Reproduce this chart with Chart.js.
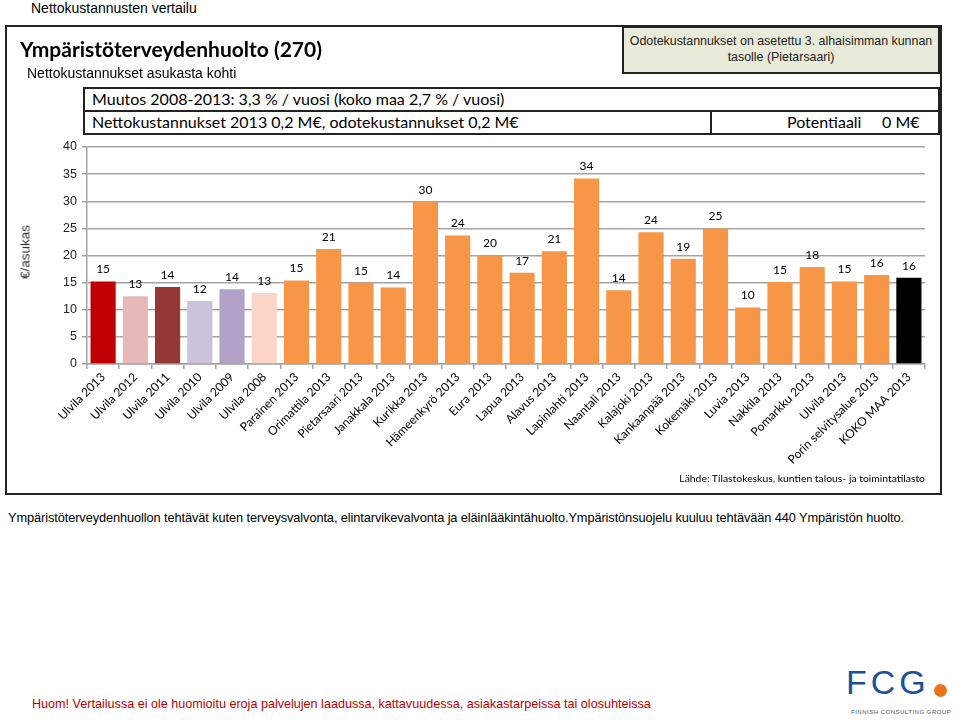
<!DOCTYPE html>
<html>
<head>
<meta charset="utf-8">
<script src="https://cdn.jsdelivr.net/npm/chart.js@4.4.1/dist/chart.umd.min.js"></script>
<style>
  html, body { margin: 0; padding: 0; background: #fff; }
  body { width: 960px; height: 720px; position: relative; overflow: hidden; font-family: "Liberation Sans", Arial, sans-serif; }
  .abs { position: absolute; white-space: nowrap; }
  #frame { position: absolute; left: 5px; top: 25px; width: 933px; height: 466px; border: 2px solid #222; box-sizing: content-box; }
  #chartCanvas { position: absolute; left: 0; top: 0; }
  .box { position: absolute; border: 2px solid #222; box-sizing: border-box; background: #fff; }
</style>
</head>
<body>
<div class="abs" style="left:31px; top:0px; font-size:14px; color:#000;">Nettokustannusten vertailu</div>
<div id="frame"></div>
<canvas id="chartCanvas" width="960" height="500"></canvas>
<div class="abs" style="left:20px; top:36px; font-family:Lato, sans-serif; font-weight:bold; font-size:21px; color:#000;">Ympäristöterveydenhuolto (270)</div>
<div class="abs" style="left:27px; top:65px; font-size:14px; color:#000;">Nettokustannukset asukasta kohti</div>

<div class="box" style="left:622px; top:26px; width:318px; height:48px; background:#E9EBDA;"></div>
<div class="abs" style="left:622px; top:33px; width:318px; text-align:center; font-size:12.4px; line-height:16px; color:#222; white-space:normal;">Odotekustannukset on asetettu 3. alhaisimman kunnan<br>tasolle (Pietarsaari)</div>

<div class="box" style="left:83px; top:87px; width:857px; height:25px;"></div>
<div class="box" style="left:83px; top:110px; width:857px; height:25px;"></div>
<div class="box" style="left:710px; top:110px; width:230px; height:25px;"></div>
<div class="abs" style="left:92px; top:89px; font-family:Lato, sans-serif; font-size:16px; color:#000;">Muutos 2008-2013: 3,3 % / vuosi (koko maa 2,7 % / vuosi)</div>
<div class="abs" style="left:92px; top:112px; font-family:Lato, sans-serif; font-size:16px; color:#000;">Nettokustannukset 2013 0,2 M€, odotekustannukset 0,2 M€</div>
<div class="abs" style="left:787px; top:112px; font-family:Lato, sans-serif; font-size:16px; color:#000;">Potentiaali</div>
<div class="abs" style="left:882px; top:112px; font-family:Lato, sans-serif; font-size:16px; color:#000;">0 M€</div>

<div class="abs" style="left:25px; top:252px; transform:translate(-50%,-50%) rotate(-90deg); font-size:13.5px; font-weight:normal; color:#333;">€/asukas</div>
<div class="abs" style="right:35px; top:472px; font-family:Lato, sans-serif; font-size:10.4px; color:#000;">Lähde: Tilastokeskus, kuntien talous- ja toimintatilasto</div>

<div class="abs" style="left:8px; top:510px; font-size:12.8px; letter-spacing:-0.1px; color:#000;">Ympäristöterveydenhuollon tehtävät kuten terveysvalvonta, elintarvikevalvonta ja eläinlääkintähuolto.Ympäristönsuojelu kuuluu tehtävään 440 Ympäristön huolto.</div>
<div class="abs" style="left:32px; top:697px; font-size:12.6px; color:#C00000;">Huom! Vertailussa ei ole huomioitu eroja palvelujen laadussa, kattavuudessa, asiakastarpeissa tai olosuhteissa</div>

<div class="abs" style="left:846px; top:663px; font-family:'Liberation Sans', Arial, sans-serif; font-size:34px; letter-spacing:4px; color:#1E4F9C;">FCG</div>
<div class="abs" style="left:934px; top:684px; width:13px; height:13px; border-radius:50%; background:#E9731E;"></div>
<div class="abs" style="left:851px; top:709px; font-size:6px; letter-spacing:0.5px; color:#555;">FINNISH CONSULTING GROUP</div>

<script>
const categories = [
  "Ulvila 2013", "Ulvila 2012", "Ulvila 2011", "Ulvila 2010", "Ulvila 2009", "Ulvila 2008",
  "Parainen 2013", "Orimattila 2013", "Pietarsaari 2013", "Janakkala 2013", "Kurikka 2013",
  "Hämeenkyrö 2013", "Eura 2013", "Lapua 2013", "Alavus 2013", "Lapinlahti 2013",
  "Naantali 2013", "Kalajoki 2013", "Kankaanpää 2013", "Kokemäki 2013", "Luvia 2013",
  "Nakkila 2013", "Pomarkku 2013", "Ulvila 2013", "Porin selvitysalue 2013", "KOKO MAA 2013"
];
const costPerResident = [
  15.2, 12.5, 14.2, 11.6, 13.8, 13.1,
  15.4, 21.2, 15.0, 14.1, 29.9,
  23.7, 20.0, 16.8, 20.8, 34.2,
  13.6, 24.3, 19.4, 25.0, 10.4,
  15.1, 17.9, 15.2, 16.4, 15.9
];
const barColors = [
  "#C00000", "#E6B9B8", "#953735", "#CCC1DA", "#B3A2C7", "#FCD5C8",
  "#F79646", "#F79646", "#F79646", "#F79646", "#F79646",
  "#F79646", "#F79646", "#F79646", "#F79646", "#F79646",
  "#F79646", "#F79646", "#F79646", "#F79646", "#F79646",
  "#F79646", "#F79646", "#F79646", "#F79646", "#000000"
];
const yTicks = [0, 5, 10, 15, 20, 25, 30, 35, 40];

const valueLabels = {
  id: "valueLabels",
  afterDatasetsDraw(chart) {
    const ctx = chart.ctx;
    const meta = chart.getDatasetMeta(0);
    ctx.save();
    ctx.font = "12px Lato, sans-serif";
    ctx.fillStyle = "#000";
    ctx.textAlign = "center";
    ctx.textBaseline = "bottom";
    meta.data.forEach((el, i) => {
      ctx.fillText(String(Math.round(costPerResident[i])), el.x, el.y - 6);
    });
    ctx.restore();
  }
};

new Chart(document.getElementById("chartCanvas"), {
  type: "bar",
  data: {
    labels: categories,
    datasets: [{
      data: costPerResident,
      backgroundColor: barColors,
      borderWidth: 0,
      categoryPercentage: 1.0,
      barPercentage: 0.78
    }]
  },
  options: {
    responsive: false,
    animation: false,
    devicePixelRatio: 1,
    layout: { padding: { left: 0, right: 35, top: 147, bottom: 0 } },
    plugins: { legend: { display: false }, tooltip: { enabled: false } },
    scales: {
      y: {
        min: 0, max: 40,
        afterFit(scale) { scale.width = 87; },
        afterBuildTicks(scale) { scale.ticks = yTicks.map(v => ({ value: v })); },
        ticks: { font: { family: "Liberation Sans, Arial", size: 12.5 }, color: "#222", padding: 5 },
        grid: { color: "#A3A3A3", lineWidth: 1.5, tickLength: 5, drawTicks: true },
        border: { color: "#A3A3A3", width: 1.5 }
      },
      x: {
        afterFit(scale) { scale.height = 136; },
        ticks: {
          minRotation: 45, maxRotation: 45, autoSkip: false,
          font: { family: "Lato, sans-serif", size: 12 }, color: "#000", padding: 1
        },
        grid: { display: true, drawOnChartArea: false, offset: true, tickLength: 5, color: "#A3A3A3", lineWidth: 1.5 },
        border: { color: "#A3A3A3", width: 1.5 }
      }
    }
  },
  plugins: [valueLabels]
});
</script>
</body>
</html>
